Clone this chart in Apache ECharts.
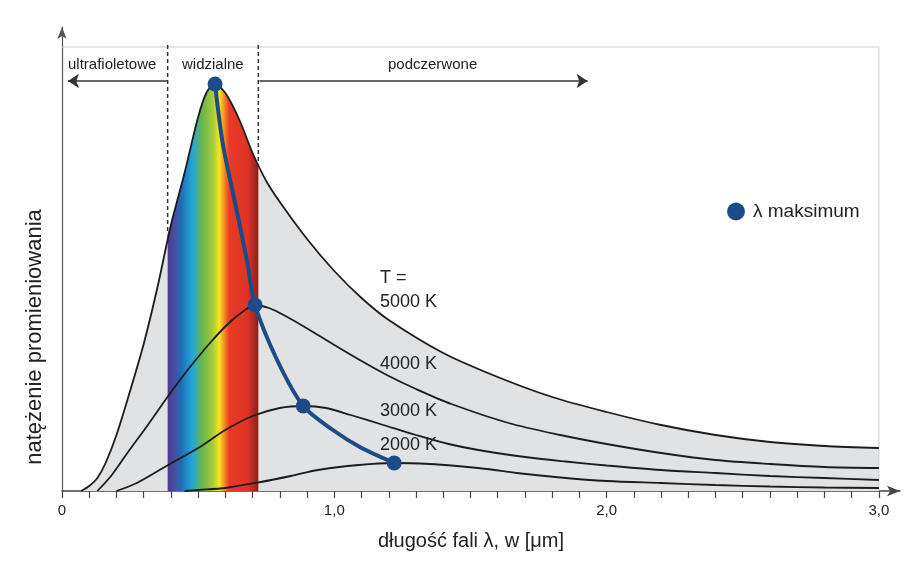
<!DOCTYPE html>
<html>
<head>
<meta charset="utf-8">
<title>Promieniowanie ciała doskonale czarnego</title>
<script src="https://cdn.jsdelivr.net/npm/echarts@6/dist/echarts.min.js"></script>
<style>
  html, body { margin: 0; padding: 0; background: #fff; }
  #chart { width: 919px; height: 575px; }
</style>
</head>
<body>
<div id="chart"></div>
<script>
// krzywe: [długość fali w µm, natężenie w jednostkach umownych]
const curve5000 = [[0.07, 0], [0.1, 5], [0.13, 13], [0.16, 28], [0.2, 56], [0.25, 100], [0.3, 147], [0.35, 203],
  [0.4, 266], [0.45, 318], [0.5, 374], [0.53, 398], [0.56, 407], [0.6, 398], [0.65, 372], [0.7, 338], [0.75, 310],
  [0.8, 289], [0.9, 252], [1.0, 220], [1.1, 193], [1.2, 171], [1.4, 138], [1.6, 114], [1.8, 94], [2.0, 79],
  [2.2, 66], [2.4, 56], [2.6, 49], [2.8, 45], [3.0, 43]]
const curve4000 = [[0.13, 0], [0.18, 15], [0.24, 38], [0.31, 64], [0.39, 95], [0.45, 117], [0.5, 134], [0.55, 150],
  [0.6, 164.5], [0.65, 176.5], [0.71, 186], [0.76, 183], [0.8, 178], [0.86, 169], [0.94, 156], [1.0, 146],
  [1.1, 130], [1.2, 115], [1.3, 102], [1.43, 87], [1.64, 68], [1.83, 56], [2.0, 47], [2.2, 38], [2.4, 31],
  [2.6, 27], [2.8, 24], [3.0, 23]]
const curve3000 = [[0.2, 0], [0.275, 8], [0.39, 26], [0.5, 43], [0.6, 61], [0.7, 75], [0.8, 83], [0.886, 85],
  [0.97, 83], [1.06, 76], [1.18, 66], [1.3, 56], [1.42, 47], [1.55, 40], [1.7, 34], [1.85, 29.5], [2.0, 25.5],
  [2.2, 21], [2.4, 18], [2.6, 15], [2.8, 13], [3.0, 11]]
const curve2000 = [[0.45, 0], [0.5, 1], [0.6, 3], [0.73, 9], [0.84, 15], [0.94, 21], [1.09, 26], [1.22, 28],
  [1.35, 27], [1.45, 25], [1.56, 22], [1.67, 18], [1.83, 13.5], [2.0, 10], [2.2, 8], [2.4, 6], [2.6, 4.5],
  [2.8, 3.5], [3.0, 3]]

// prawo Wiena - linia łącząca maksima
const wien = [[0.562, 407], [0.59, 348], [0.628, 298], [0.679, 231], [0.709, 186], [0.79, 131], [0.886, 85],
  [0.995, 61], [1.094, 44], [1.22, 28]]
const peaks = [[0.562, 407], [0.709, 186], [0.886, 85], [1.22, 28]]

// zakres widzialny i brzegi krzywej 5000 K na jego granicach
const visibleRange = [0.388, 0.721]
const visibleEdges = [[0.388, 257], [0.721, 324]]
const frameTop = 444

const xTicks = [0, 0.1, 0.2, 0.3, 0.4, 0.5, 0.6, 0.7, 0.8, 0.9, 1.0, 1.1, 1.2, 1.3, 1.4, 1.5, 1.6, 1.7, 1.8, 1.9,
  2.0, 2.1, 2.2, 2.3, 2.4, 2.5, 2.6, 2.7, 2.8, 2.9, 3.0]
const xLabelValues = [0, 1, 2, 3]
const xLabels = ['0', '1,0', '2,0', '3,0']

const labelsT = [
  { text: 'T =', y: 279 },
  { text: '5000 K', y: 303 },
  { text: '4000 K', y: 365 },
  { text: '3000 K', y: 412 },
  { text: '2000 K', y: 446 },
]

const spectrumData = [visibleEdges[0]]
  .concat(curve5000.filter(p => p[0] > visibleRange[0] && p[0] < visibleRange[1]))
  .concat([visibleEdges[1]])

const font = "'Liberation Sans', Arial, sans-serif"
const ink = '#1c1c1c'
const blue = '#1b4c88'
const smooth = 0.3

const chart = echarts.init(document.getElementById('chart'))

function curveLine(name, data) {
  return {
    name, type: 'line', data, smooth, symbol: 'none', silent: true, z: 3,
    lineStyle: { color: ink, width: 1.8 },
  }
}

chart.setOption({
  animation: false,
  grid: { left: 62, right: 19, top: 27, bottom: 84, containLabel: false },
  legend: {
    data: ['λ maksimum'],
    left: 722, top: 197,
    icon: 'circle', itemWidth: 18, itemHeight: 18,
    textStyle: { fontFamily: font, fontSize: 19, color: '#222', padding: [0, 0, 0, 3] },
    selectedMode: false,
  },
  xAxis: {
    type: 'value', min: 0, max: 3.0775,
    name: 'długość fali λ, w [μm]', nameLocation: 'middle', nameGap: 40,
    nameTextStyle: { fontFamily: font, fontSize: 20, color: '#222', padding: [0, 20, 0, 0] },
    splitLine: { show: false },
    axisLine: { show: true, lineStyle: { color: '#444', width: 1.5 }, symbol: ['none', 'arrow'], symbolSize: [8, 13] },
    axisTick: { show: true, length: 7, customValues: xTicks, lineStyle: { color: '#444', width: 1.2 } },
    axisLabel: {
      customValues: xLabelValues, margin: 12,
      fontFamily: font, fontSize: 15, color: '#222',
      formatter: v => xLabels[xLabelValues.indexOf(Math.round(v))] || '',
    },
  },
  yAxis: {
    type: 'value', min: 0, max: 464,
    splitLine: { show: false },
    axisLine: { show: true, lineStyle: { color: '#555', width: 1.2 }, symbol: ['none', 'arrow'], symbolSize: [7, 12] },
    axisTick: { show: false },
    axisLabel: { show: false },
  },
  series: [
    {
      name: 'tło', type: 'line', data: curve5000, smooth, symbol: 'none', silent: true, z: 1,
      lineStyle: { width: 0 }, areaStyle: { color: '#e1e2e4', opacity: 1 },
    },
    {
      name: 'ramka', type: 'line', data: [[0, frameTop], [3, frameTop], [3, 0]], symbol: 'none', silent: true, z: 1,
      lineStyle: { color: '#cbcbcb', width: 1 },
    },
    {
      name: 'widmo', type: 'line', data: spectrumData, smooth, symbol: 'none', silent: true, z: 2,
      lineStyle: { width: 0 },
      areaStyle: {
        opacity: 1,
        color: {
          type: 'linear', x: 0, y: 0, x2: 1, y2: 0,
          colorStops: [
            { offset: 0, color: '#4d3a8e' },
            { offset: 0.07, color: '#4a4c9e' },
            { offset: 0.15, color: '#1f6cb6' },
            { offset: 0.27, color: '#22a6da' },
            { offset: 0.38, color: '#67b54c' },
            { offset: 0.5, color: '#a9cc3b' },
            { offset: 0.57, color: '#f5e51f' },
            { offset: 0.62, color: '#f39324' },
            { offset: 0.68, color: '#e93a25' },
            { offset: 0.88, color: '#de3326' },
            { offset: 1, color: '#8c1d1d' },
          ],
        },
      },
    },
    {
      name: 'granica UV', type: 'line', data: [[visibleRange[0], 446], [visibleRange[0], visibleEdges[0][1]]],
      symbol: 'none', silent: true, z: 2, lineStyle: { color: '#333', width: 1.5, type: [4, 3] },
    },
    {
      name: 'granica IR', type: 'line', data: [[visibleRange[1], 446], [visibleRange[1], visibleEdges[1][1]]],
      symbol: 'none', silent: true, z: 2, lineStyle: { color: '#333', width: 1.5, type: [4, 3] },
    },
    {
      name: 'strzałki', type: 'lines', coordinateSystem: 'cartesian2d', silent: true, z: 2,
      symbol: ['none', 'arrow'], symbolSize: 11,
      lineStyle: { color: '#333', width: 1.5, opacity: 1 },
      data: [
        { coords: [[0.386, 410], [0.022, 410]] },
        { coords: [[0.725, 410], [1.93, 410]] },
      ],
    },
    curveLine('2000 K', curve2000),
    curveLine('3000 K', curve3000),
    curveLine('4000 K', curve4000),
    curveLine('5000 K', curve5000),
    {
      name: 'Wien', type: 'line', data: wien, smooth, symbol: 'none', silent: true, z: 4,
      lineStyle: { color: blue, width: 4 },
    },
    {
      name: 'λ maksimum', type: 'scatter', data: peaks, symbolSize: 15, silent: true, z: 5,
      itemStyle: { color: blue, opacity: 1 },
    },
  ],
  graphic: [
    { type: 'text', z: 100, left: 68, top: 57, style: { text: 'ultrafioletowe', font: '15px ' + font, fill: '#222' } },
    { type: 'text', z: 100, left: 182, top: 57, style: { text: 'widzialne', font: '15px ' + font, fill: '#222' } },
    { type: 'text', z: 100, left: 388, top: 57, style: { text: 'podczerwone', font: '15px ' + font, fill: '#222' } },
    {
      type: 'text', z: 100, x: 35, y: 337, rotation: Math.PI / 2,
      style: { text: 'natężenie promieniowania', font: '22px ' + font, fill: '#222', align: 'center', verticalAlign: 'middle' },
    },
  ].concat(labelsT.map(l => ({
    type: 'text', z: 100, left: 380, top: l.y - 10,
    style: { text: l.text, font: '18px ' + font, fill: '#222' },
  }))),
})
</script>
</body>
</html>
